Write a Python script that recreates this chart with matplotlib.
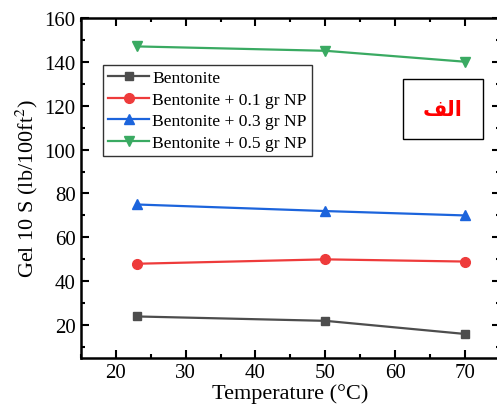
import matplotlib.pyplot as plt
from matplotlib.ticker import MultipleLocator
from matplotlib.patches import Rectangle

# Data
temperature = [23, 50, 70]
bentonite = [24, 22, 16]
bent_01 = [48, 50, 49]
bent_03 = [75, 72, 70]
bent_05 = [147, 145, 140]
labels = ['Bentonite', 'Bentonite + 0.1 gr NP', 'Bentonite + 0.3 gr NP', 'Bentonite + 0.5 gr NP']
panel_label = '\uFED2\uFEDF\uFE8D'  # "الف" in presentation forms, visual order

plt.rcParams['font.family'] = ['Liberation Serif', 'DejaVu Sans']
plt.rcParams['mathtext.fontset'] = 'stix'

fig = plt.figure(figsize=(4.97, 4.10), dpi=100)
ax = fig.add_axes([0.162, 0.124, 0.845, 0.83])

ax.plot(temperature, bentonite, marker='s', color='#4d4d4d', lw=1.6, ms=6, label=labels[0])
ax.plot(temperature, bent_01, marker='o', color='#ee3b3b', lw=1.6, ms=7, label=labels[1])
ax.plot(temperature, bent_03, marker='^', color='#1c64dc', lw=1.6, ms=7, label=labels[2])
ax.plot(temperature, bent_05, marker='v', color='#3aaa62', lw=1.6, ms=7, label=labels[3])

ax.set_xlim(15, 75)
ax.set_ylim(5, 160)
ax.xaxis.set_major_locator(MultipleLocator(10))
ax.xaxis.set_minor_locator(MultipleLocator(5))
ax.yaxis.set_major_locator(MultipleLocator(20))
ax.yaxis.set_minor_locator(MultipleLocator(10))
ax.tick_params(which='both', direction='in', top=True, right=True, width=1.5, labelsize=15)
ax.tick_params(which='major', length=6)
ax.tick_params(which='minor', length=3)
for s in ax.spines.values():
    s.set_linewidth(1.8)

ax.set_xlabel('Temperature (°C)', fontsize=16, labelpad=1)
ax.set_ylabel('Gel 10 S (lb/100ft$^2$)', fontsize=16, labelpad=3)

leg = ax.legend(loc='upper left', bbox_to_anchor=(0.054, 0.862), fontsize=12.6, frameon=True,
                fancybox=False, edgecolor='black', handlelength=2.3, borderpad=0.3,
                labelspacing=0.3, handletextpad=0.2, borderaxespad=0)
leg.get_frame().set_linewidth(1.0)

ax.add_patch(Rectangle((0.768, 0.644), 0.19, 0.176, transform=ax.transAxes,
                       facecolor='white', edgecolor='black', lw=1.0, zorder=5))
ax.text(0.863, 0.732, panel_label, transform=ax.transAxes, ha='center', va='center',
        fontsize=15, fontweight='bold', color='red', family='DejaVu Sans', zorder=6)

fig.savefig('out.png', dpi=100)
